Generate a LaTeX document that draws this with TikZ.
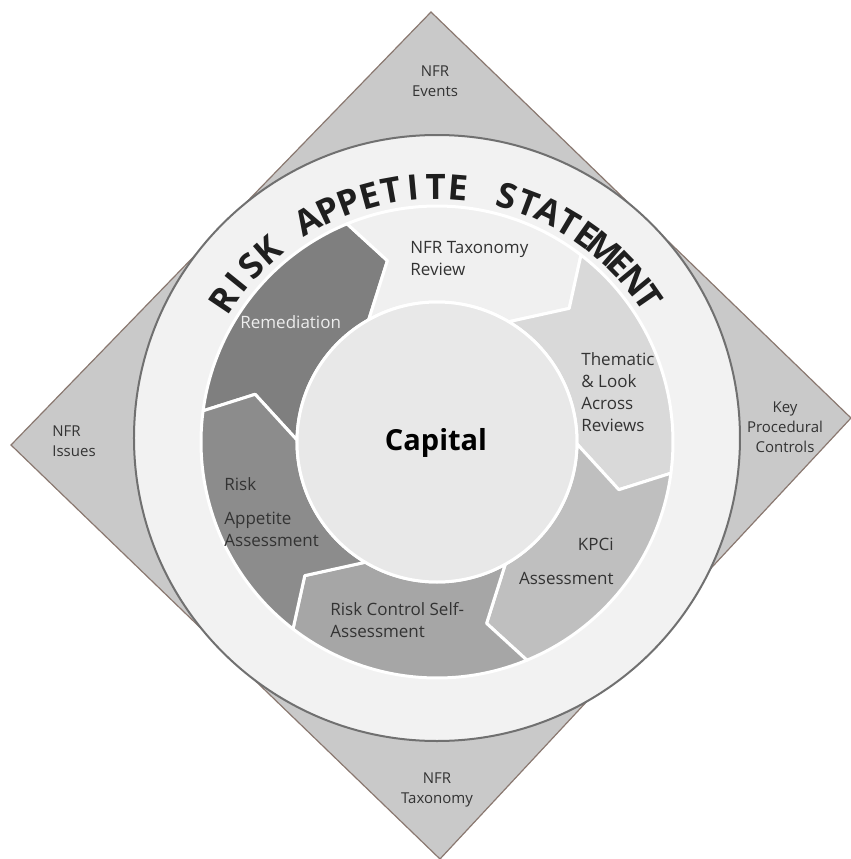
\documentclass[tikz,border=0pt]{standalone}
\usepackage{fontspec}
\setmainfont{Open Sans}
\definecolor{dfill}{HTML}{C9C9C9}
\definecolor{dedge}{HTML}{8A7870}
\definecolor{ringfill}{HTML}{F2F2F2}
\definecolor{ringedge}{HTML}{707070}
\definecolor{sA}{HTML}{7F7F7F}
\definecolor{sB}{HTML}{F0F0F0}
\definecolor{sC}{HTML}{D9D9D9}
\definecolor{sD}{HTML}{BFBFBF}
\definecolor{sE}{HTML}{A6A6A6}
\definecolor{sF}{HTML}{8C8C8C}
\definecolor{capfill}{HTML}{E8E8E8}
\definecolor{txt}{HTML}{333333}
\definecolor{remtxt}{HTML}{EDEDED}
\def\rasfont{\fontsize{17.5}{17.5}\selectfont\bfseries}
\def\rasspc{\hspace*{2.5pt}}
\newlength\raslen
\begin{document}
\begin{tikzpicture}[x=0.5pt,y=0.5pt,
  lbl/.style={font=\fontsize{7.5}{10}\selectfont, text=txt, inner sep=0pt, align=center},
  seglbl/.style={font=\fontsize{8.5}{11}\selectfont, text=txt, inner sep=0pt},
  seg/.style={draw=white, line width=1.5pt, line join=round},
  rasletter/.style={font=\rasfont, text=black!88, anchor=base, inner sep=0pt}]
\useasboundingbox (-437,-417) rectangle (414,442);
% diamond
\path[fill=dfill, draw=dedge, line width=0.6pt] (-6,430) -- (414,24) -- (3,-417) -- (-426,-3) -- cycle;
% outer ring
\path[fill=ringfill, draw=ringedge, line width=1pt] (0,4) circle[radius=303];
% arrow segments
\foreach \k/\c in {0/sA,1/sB,2/sC,3/sD,4/sE,5/sF}{
  \pgfmathsetmacro\segOT{172.4-60*\k}
  \pgfmathsetmacro\segOH{112.4-60*\k}
  \pgfmathsetmacro\segPT{165.3-60*\k}
  \pgfmathsetmacro\segPH{105.3-60*\k}
  \pgfmathsetmacro\segIT{179.2-60*\k}
  \pgfmathsetmacro\segIH{119.2-60*\k}
  \path[seg, fill=\c] (\segOT:236) arc[start angle=\segOT, end angle=\segOH, radius=236]
     -- (\segPH:188) -- (\segIH:140) arc[start angle=\segIH, end angle=\segIT, radius=140]
     -- (\segPT:188) -- cycle;
}
% centre circle
\path[fill=capfill, draw=white, line width=1.5pt] (0,0) circle[radius=140];
% curved title: measure letters, then spread them over the arc
\xdef\rastotal{0}
\foreach \ch in {R,I,S,K,\rasspc,A,P,P,E,T,I,T,E,\rasspc,S,T,A,T,E,M,E,N,T}{
  \settowidth\raslen{\rasfont\ch}
  \pgfmathsetmacro\rastmp{\rastotal+\raslen}
  \xdef\rastotal{\rastmp}
}
\pgfmathsetmacro\rasgap{max(0,(238.2-\rastotal)/22)}
\xdef\rasgap{\rasgap}
\pgfmathsetmacro\rasstart{90.3+(\rastotal+22*\rasgap)/245*180/pi}
\xdef\rasstart{\rasstart}
\xdef\raspos{0}
\foreach \ch [count=\i] in {R,I,S,K,\rasspc,A,P,P,E,T,I,T,E,\rasspc,S,T,A,T,E,M,E,N,T}{
  \settowidth\raslen{\rasfont\ch}
  \pgfmathsetmacro\rasw{\raslen}
  \pgfmathsetmacro\rasang{\rasstart-(\raspos+\rasw/2)*2/245*180/pi}
  \node[rasletter, rotate=\rasang-90] (ras\i) at ({245*cos(\rasang)},{245*sin(\rasang)-2}) {\ch};
  \pgfmathsetmacro\rastmp{\raspos+\rasw+\rasgap}
  \xdef\raspos{\rastmp}
}
% labels
\node[lbl] (events) at (-2,361) {NFR\\Events};
\node[lbl, align=left, anchor=west] (issues) at (-385,1) {NFR\\Issues};
\node[lbl] (kpc) at (348,15) {Key\\Procedural\\Controls};
\node[lbl] (taxonomy) at (0,-348) {NFR\\Taxonomy};
\node[seglbl, align=left, anchor=west] (review) at (-27,183) {NFR Taxonomy\\Review};
\node[seglbl, anchor=west, text=remtxt] (remed) at (-197,120) {Remediation};
\node[seglbl, align=left, anchor=west] (thematic) at (144,50) {Thematic\\\& Look\\Across\\Reviews};
\node[font=\fontsize{14.5}{17}\selectfont\bfseries, text=black, inner sep=0pt] (capital) at (-1,-1) {Capital};
\node[seglbl, align=left, anchor=west] (rappetite) at (-213,-70.5) {Risk\\[6pt]Appetite\\Assessment};
\node[seglbl, align=right, anchor=east] (kpci) at (177,-119.5) {KPCi\\[6pt]Assessment};
\node[seglbl, align=left, anchor=west] (rcsa) at (-107,-178) {Risk Control Self-\\Assessment};
\end{tikzpicture}
\end{document}
